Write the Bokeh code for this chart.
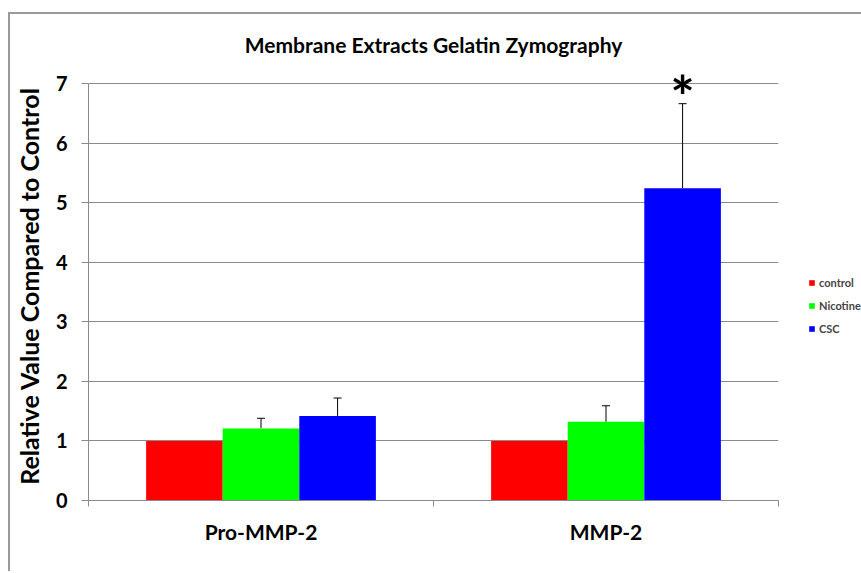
from bokeh.plotting import figure
from bokeh.models import (ColumnDataSource, Whisker, TeeHead, FixedTicker, Legend,
                          LegendItem, Title)
from bokeh.core.properties import value
from bokeh.embed import file_html
from bokeh.resources import INLINE

# ---- data ----
categories = ["Pro-MMP-2", "MMP-2"]
series = ["control", "Nicotine", "CSC"]
colors = ["#FF0000", "#00FF00", "#0000FF"]
control = [1.0, 1.0]
nicotine = [1.21, 1.32]
csc = [1.42, 5.24]
control_err = [0.0, 0.0]
nicotine_err = [0.17, 0.27]
csc_err = [0.30, 1.42]
csc_sig = ["", "*"]
y_ticks = [0, 1, 2, 3, 4, 5, 6, 7]

FONT = "Lato"
BAR_W = 0.222
offsets = [-BAR_W, 0.0, BAR_W]

p = figure(frame_width=690, frame_height=429, output_backend="svg", toolbar_location=None,
           x_range=(0, len(categories)), y_range=(0, 7.2),
           min_border_left=78, min_border_right=0, min_border_top=57,
           min_border_bottom=71)
p.margin = (12, 0, 0, 8)
p.styles = {"border-top": "2px solid #9a9a9a", "border-left": "2px solid #9a9a9a"}
p.outline_line_color = None
p.background_fill_color = "white"
p.border_fill_color = "white"

vals_all = [control, nicotine, csc]
errs_all = [control_err, nicotine_err, csc_err]
items = []
for name, col, vals, errs, off in zip(series, colors, vals_all, errs_all, offsets):
    xs = [i + 0.5 + off for i in range(len(categories))]
    src = ColumnDataSource(dict(x=xs, top=vals, upper=[v + e for v, e in zip(vals, errs)],
                                err=errs))
    r = p.vbar(x="x", top="top", width=BAR_W, source=src, fill_color=col, line_color=None)
    items.append(LegendItem(label=name, renderers=[r]))
    if any(e > 0 for e in errs):
        w = Whisker(base="x", lower="top", upper="upper", source=src, dimension="height",
                    line_color="black", line_width=1,
                    upper_head=TeeHead(size=8, line_color="black", line_width=1),
                    lower_head=None)
        p.add_layout(w)
    if name == "CSC":
        sig_src = ColumnDataSource(dict(x=xs, y=[v + e for v, e in zip(vals, errs)], t=csc_sig))
        p.text(x="x", y="y", text="t", source=sig_src, text_font=value(FONT),
               text_font_size="58px", text_font_style="bold", text_align="center",
               text_baseline="alphabetic", y_offset=-8, text_color="black")

# grid
p.xgrid.visible = False
p.ygrid.ticker = FixedTicker(ticks=y_ticks)
p.ygrid.grid_line_color = "#8a8a8a"
p.ygrid.grid_line_width = 1

# y axis
p.yaxis.ticker = FixedTicker(ticks=y_ticks)
p.yaxis.bounds = (y_ticks[0], y_ticks[-1])
p.yaxis.axis_line_color = "#8a8a8a"
p.yaxis.major_tick_line_color = "#8a8a8a"
p.yaxis.major_tick_out = 7
p.yaxis.major_tick_in = 0
p.yaxis.minor_tick_line_color = None
p.yaxis.major_label_text_font = FONT
p.yaxis.major_label_text_font_style = "bold"
p.yaxis.major_label_text_font_size = "20px"
p.yaxis.major_label_text_color = "black"
p.yaxis.major_label_standoff = 14
p.yaxis.axis_label = "Relative Value Compared to Control"
p.yaxis.axis_label_text_font = FONT
p.yaxis.axis_label_text_font_style = "bold"
p.yaxis.axis_label_text_font_size = "25px"
p.yaxis.axis_label_text_color = "black"
p.yaxis.axis_label_standoff = 9

# x axis: labels at group centers, ticks at group boundaries
p.xaxis.ticker = FixedTicker(ticks=[i + 0.5 for i in range(len(categories))],
                             minor_ticks=list(range(len(categories) + 1)))
p.xaxis.major_label_overrides = {i + 0.5: c for i, c in enumerate(categories)}
p.xaxis.axis_line_color = "#8a8a8a"
p.xaxis.major_tick_line_color = None
p.xaxis.major_tick_out = 0
p.xaxis.major_tick_in = 0
p.xaxis.minor_tick_line_color = "#8a8a8a"
p.xaxis.minor_tick_out = 6
p.xaxis.minor_tick_in = 0
p.xaxis.major_label_text_font = FONT
p.xaxis.major_label_text_font_style = "bold"
p.xaxis.major_label_text_font_size = "21px"
p.xaxis.major_label_text_color = "black"
p.xaxis.major_label_standoff = 12

# title
t = Title(text="Membrane Extracts Gelatin Zymography", align="center",
          text_font=FONT, text_font_style="bold", text_font_size="21px",
          text_color="black", standoff=30)
p.add_layout(t, "above")

# legend, in the right panel
legend = Legend(items=items, location=(30, 164), border_line_color=None,
                background_fill_alpha=0, padding=0, margin=0, glyph_width=7,
                glyph_height=7, label_text_font=FONT, label_text_font_style="bold",
                label_text_font_size="11px", label_standoff=4, spacing=7,
                label_height=16)
p.add_layout(legend, "right")

open("out.html", "w").write(file_html(p, INLINE))
